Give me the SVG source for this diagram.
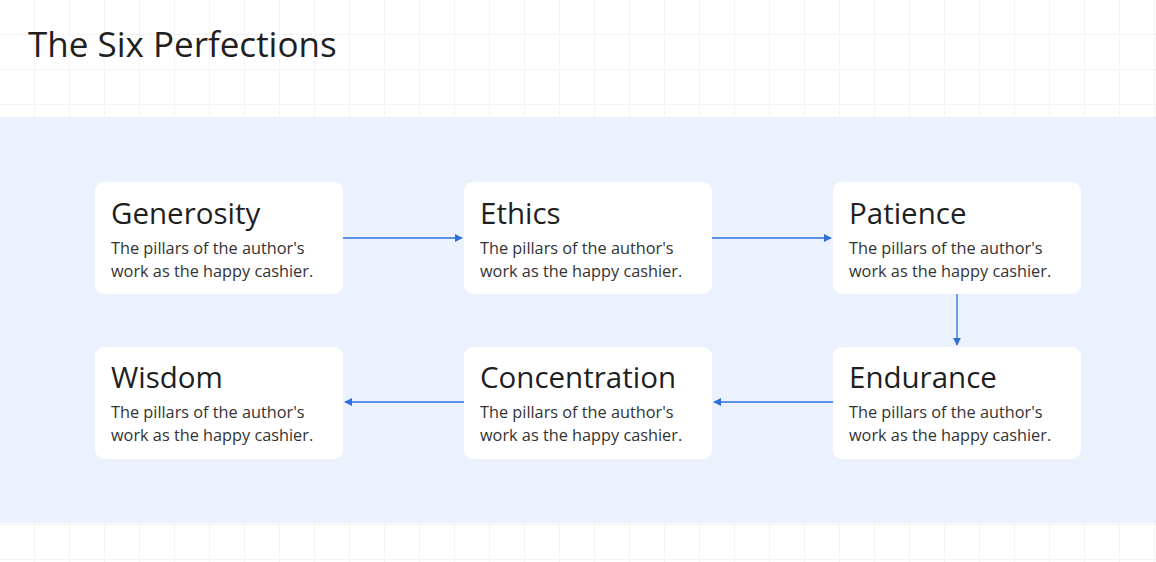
<svg xmlns="http://www.w3.org/2000/svg" width="1156" height="562" viewBox="0 0 1156 562">
<defs>
<pattern id="grid" width="35" height="35" patternUnits="userSpaceOnUse"><path d="M35 0V35H0" fill="none" stroke="#f4f4f4" stroke-width="2"/></pattern>
<marker id="ah" viewBox="0 0 10 10" refX="9" refY="5" markerWidth="8" markerHeight="8" markerUnits="userSpaceOnUse" orient="auto"><path d="M0 0L10 5L0 10z" fill="#2f6fdc"/></marker>
<style>
.box{fill:#fff}
.t{font-family:"Open Sans","Liberation Sans",sans-serif;font-size:29.5px;font-weight:500;fill:#1f1f1f}
.b{font-family:"Open Sans","Liberation Sans",sans-serif;font-size:16.3px;fill:#333}
.c{stroke:#2f6fdc;stroke-width:1.3;fill:none;marker-end:url(#ah)}
</style>
</defs>
<rect width="1156" height="562" fill="#fff"/>
<rect width="1156" height="562" fill="url(#grid)"/>
<rect y="117" width="1156" height="406" fill="#ebf2fd"/>
<text x="28" y="57" font-family="'Open Sans','Liberation Sans',sans-serif" font-size="35" font-weight="500" fill="#1f1f1f">The Six Perfections</text>
<g id="connectors">
<path class="c" d="M343 238H462"/>
<path class="c" d="M712 238H831"/>
<path class="c" d="M957 294V345"/>
<path class="c" d="M833 402H714"/>
<path class="c" d="M464 402H345"/>
</g>
<g id="n1"><rect class="box" x="95" y="182" width="248" height="112" rx="9"/><text class="t" x="111" y="224">Generosity</text><text class="b" x="111" y="254">The pillars of the author's</text><text class="b" x="111" y="277">work as the happy cashier.</text></g>
<g id="n2"><rect class="box" x="464" y="182" width="248" height="112" rx="9"/><text class="t" x="480" y="224">Ethics</text><text class="b" x="480" y="254">The pillars of the author's</text><text class="b" x="480" y="277">work as the happy cashier.</text></g>
<g id="n3"><rect class="box" x="833" y="182" width="248" height="112" rx="9"/><text class="t" x="849" y="224">Patience</text><text class="b" x="849" y="254">The pillars of the author's</text><text class="b" x="849" y="277">work as the happy cashier.</text></g>
<g id="n4"><rect class="box" x="833" y="347" width="248" height="112" rx="9"/><text class="t" x="849" y="388">Endurance</text><text class="b" x="849" y="418">The pillars of the author's</text><text class="b" x="849" y="441">work as the happy cashier.</text></g>
<g id="n5"><rect class="box" x="464" y="347" width="248" height="112" rx="9"/><text class="t" x="480" y="388">Concentration</text><text class="b" x="480" y="418">The pillars of the author's</text><text class="b" x="480" y="441">work as the happy cashier.</text></g>
<g id="n6"><rect class="box" x="95" y="347" width="248" height="112" rx="9"/><text class="t" x="111" y="388">Wisdom</text><text class="b" x="111" y="418">The pillars of the author's</text><text class="b" x="111" y="441">work as the happy cashier.</text></g>
</svg>
